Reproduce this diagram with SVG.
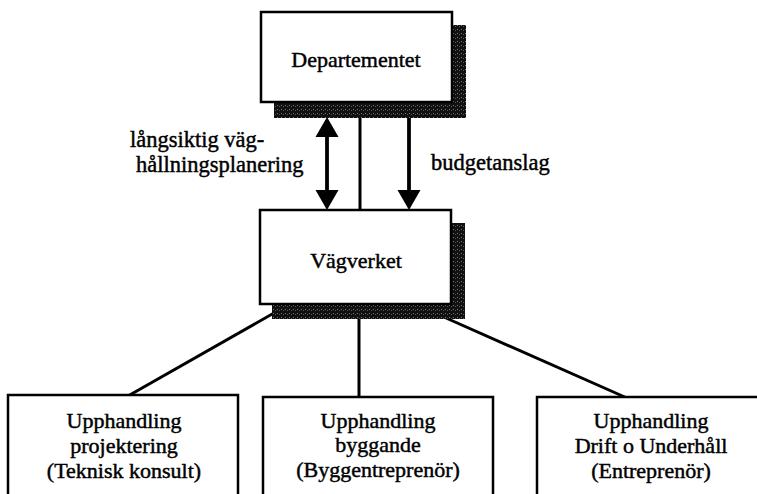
<svg xmlns="http://www.w3.org/2000/svg" width="757" height="494" viewBox="0 0 757 494">
<style>
  .box { fill: #fff; stroke: #000; stroke-width: 2.5; }
  .shadow { fill: url(#dither); }
  .t { font-family: "Liberation Serif", "Times New Roman", serif; font-size: 22px; fill: #000; stroke: #000; stroke-width: 0.45; text-anchor: middle; }
  .lbl { font-family: "Liberation Serif", "Times New Roman", serif; font-size: 22.5px; fill: #000; stroke: #000; stroke-width: 0.45; }
  .ln { stroke: #000; stroke-width: 3; fill: none; }
  .arr { stroke: #000; stroke-width: 3.8; fill: none; }
</style>
<defs>
  <pattern id="dither" width="4" height="4" patternUnits="userSpaceOnUse">
    <rect width="4" height="4" fill="#111"/>
    <rect x="1" y="1" width="1" height="1" fill="#777"/>
    <rect x="3" y="2" width="1" height="1" fill="#555"/>
  </pattern>
</defs>
<rect width="757" height="494" fill="#fff"/>

<g id="connectors">
  <line class="arr" x1="327" y1="135" x2="327" y2="192"/>
  <path d="M327,117 L338.5,137 L315.5,137 Z" fill="#000"/>
  <path d="M327,210 L338.5,190 L315.5,190 Z" fill="#000"/>
  <line class="ln" x1="360" y1="102" x2="360" y2="211"/>
  <line class="arr" x1="409" y1="117" x2="409" y2="192"/>
  <path d="M409,210 L420.5,190 L397.5,190 Z" fill="#000"/>
  <line class="ln" x1="274" y1="313" x2="128" y2="396"/>
  <line class="ln" x1="359" y1="318" x2="359" y2="398"/>
  <line class="ln" x1="446" y1="318" x2="627" y2="398"/>
</g>

<g id="departementet">
  <rect class="shadow" x="274" y="25" width="192" height="93"/>
  <rect class="box" x="261" y="12" width="191" height="90"/>
  <text class="t" x="356" y="67">Departementet</text>
</g>

<g id="vagverket">
  <rect class="shadow" x="272" y="223" width="193" height="96"/>
  <rect class="box" x="260" y="210" width="191" height="94"/>
  <text class="t" x="356" y="268">Vägverket</text>
</g>

<g id="label-langsiktig">
  <text class="lbl" x="130" y="147">långsiktig väg-</text>
  <text class="lbl" x="136" y="172">hållningsplanering</text>
</g>

<g id="label-budget">
  <text class="lbl" x="431" y="170">budgetanslag</text>
</g>

<g id="upph-projektering">
  <rect class="box" x="8" y="395" width="230" height="110"/>
  <text class="t" x="124" y="428">Upphandling</text>
  <text class="t" x="124" y="453">projektering</text>
  <text class="t" x="124" y="478">(Teknisk konsult)</text>
</g>

<g id="upph-byggande">
  <rect class="box" x="263" y="397" width="230" height="110"/>
  <text class="t" x="378" y="428">Upphandling</text>
  <text class="t" x="378" y="452">byggande</text>
  <text class="t" x="378" y="477">(Byggentreprenör)</text>
</g>

<g id="upph-drift">
  <rect class="box" x="537" y="397" width="230" height="110"/>
  <text class="t" x="651" y="428">Upphandling</text>
  <text class="t" x="651" y="453">Drift o Underhåll</text>
  <text class="t" x="651" y="478">(Entreprenör)</text>
</g>
</svg>
